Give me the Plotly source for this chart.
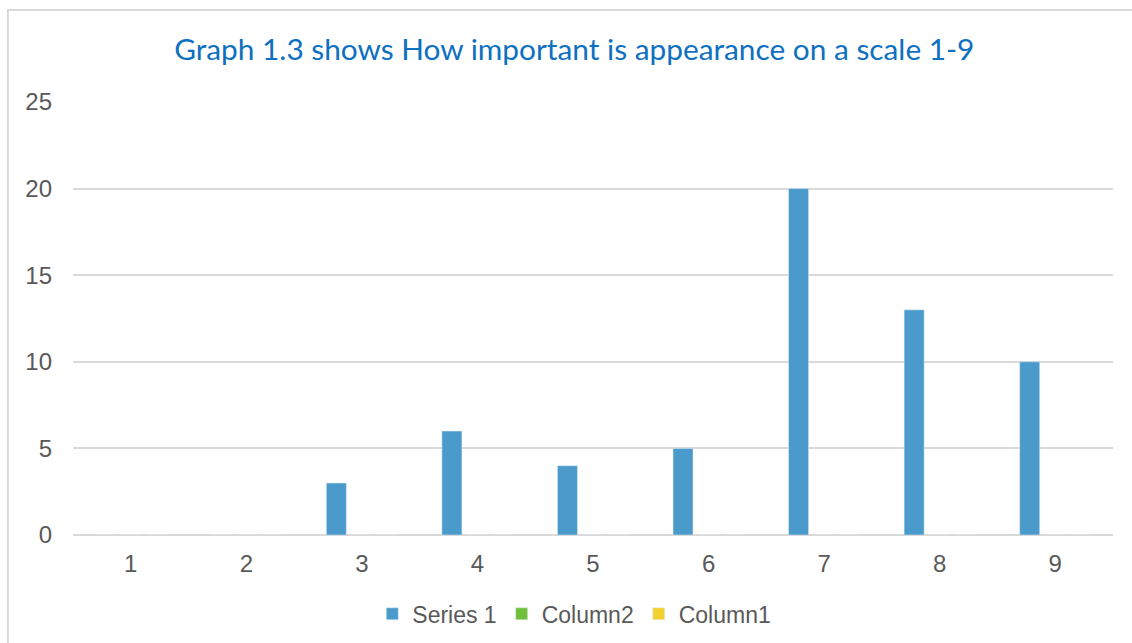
import plotly.graph_objects as go

# Ratings on the 1-9 scale and the number of responses for each
categories = ["1", "2", "3", "4", "5", "6", "7", "8", "9"]
series_1 = [0, 0, 3, 6, 4, 5, 20, 13, 10]
column2 = [0, 0, 0, 0, 0, 0, 0, 0, 0]
column1 = [0, 0, 0, 0, 0, 0, 0, 0, 0]
y_ticks = [0, 5, 10, 15, 20, 25]

title_text = "Graph 1.3 shows How important is appearance on a scale 1-9"

BLUE = "#4A9BCB"
GREEN = "#70BF3A"
YELLOW = "#F2D02E"
GRID = "#D9D9D9"
TEXT = "#595959"
FONT = "Liberation Sans, Arial, sans-serif"

fig = go.Figure()
fig.add_trace(go.Bar(name="Series 1", x=categories, y=series_1, marker_color=BLUE))
fig.add_trace(go.Bar(name="Column2", x=categories, y=column2, marker_color=GREEN))
fig.add_trace(go.Bar(name="Column1", x=categories, y=column1, marker_color=YELLOW))

fig.update_layout(
    width=1132,
    height=643,
    margin=dict(l=73, r=19, t=102, b=108, autoexpand=False),
    paper_bgcolor="white",
    plot_bgcolor="white",
    barmode="group",
    bargap=0.337,
    bargroupgap=0.216,
    title=dict(
        text=title_text,
        font=dict(family="Lato, Open Sans, sans-serif", size=29.8, color="#0E70C0"),
        x=0.482,
        xref="paper",
        xanchor="center",
        y=1 - 50 / 643,
        yref="container",
        yanchor="middle",
    ),
    font=dict(family=FONT, size=23, color=TEXT),
    showlegend=True,
    legend=dict(
        orientation="h",
        x=(372 - 73) / 1039,
        xanchor="left",
        y=-0.182,
        yanchor="middle",
        font=dict(family=FONT, size=23, color=TEXT),
        bgcolor="rgba(0,0,0,0)",
    ),
    shapes=[
        # light frame around the chart area
        dict(
            type="rect",
            xref="paper",
            yref="paper",
            x0=(8 - 73) / 1039,
            x1=1.2,
            y0=-0.5,
            y1=(535 - 10) / 433,
            line=dict(color="#D9D9D9", width=2),
            fillcolor="rgba(0,0,0,0)",
            layer="below",
        )
    ],
)

fig.update_xaxes(
    type="category",
    showgrid=False,
    showline=False,
    ticks="",
    tickfont=dict(family=FONT, size=24, color=TEXT),
    ticklabelstandoff=12,
)
fig.update_yaxes(
    range=[0, 25],
    tickvals=y_ticks,
    showgrid=True,
    gridcolor=GRID,
    gridwidth=1.5,
    zeroline=True,
    zerolinecolor=GRID,
    zerolinewidth=1.5,
    showline=False,
    ticks="",
    tickfont=dict(family=FONT, size=24, color=TEXT),
    ticklabelstandoff=20,
)

fig.write_html("out.html")
